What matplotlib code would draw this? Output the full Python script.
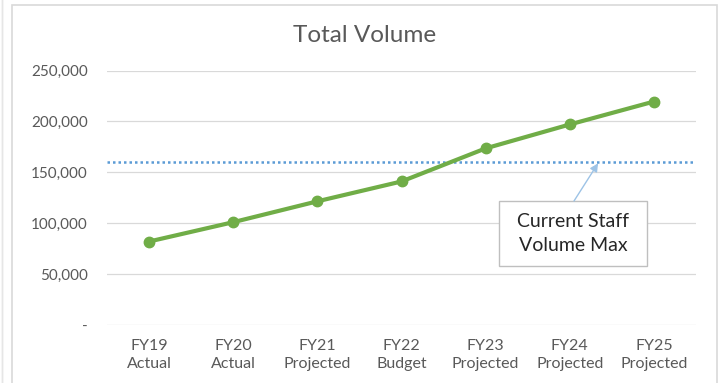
import matplotlib
matplotlib.use("Agg")
import matplotlib.pyplot as plt
from matplotlib.patches import Rectangle
from matplotlib.ticker import FuncFormatter

categories = ["FY19\nActual", "FY20\nActual", "FY21\nProjected", "FY22\nBudget",
              "FY23\nProjected", "FY24\nProjected", "FY25\nProjected"]
volume = [82000, 101000, 121500, 141000, 173500, 197000, 219500]
staff_max = 160000
yticks = [0, 50000, 100000, 150000, 200000, 250000]
title = "Total Volume"
note = "Current Staff\nVolume Max"

W, H = 723, 383
plt.rcParams['font.family'] = ['Lato', 'DejaVu Sans']
fig = plt.figure(figsize=(W / 100, H / 100), dpi=100)

# outer chart frame
fig.patches.append(Rectangle((12 / W, -0.05), (717 - 12) / W, (H - 5) / H + 0.05,
                             transform=fig.transFigure, fill=False,
                             edgecolor="#D9D9D9", lw=1.2))
fig.patches.append(Rectangle((2 / W, -0.05), 0, 1.1, transform=fig.transFigure,
                             fill=False, edgecolor="#E6E6E6", lw=1.0))

ax = fig.add_axes([107 / W, (H - 325) / H, (696 - 107) / W, (325 - 70.5) / H])
x = list(range(len(categories)))
ax.set_xlim(-0.5, len(categories) - 0.5)
ax.set_ylim(0, 250000)

ax.set_yticks(yticks)
ax.yaxis.set_major_formatter(FuncFormatter(lambda v, p: "-" if v == 0 else f"{int(v):,}"))
ax.grid(axis="y", color="#D9D9D9", lw=0.9)
ax.set_axisbelow(True)
for s in ax.spines.values():
    s.set_visible(False)
ax.tick_params(axis="y", length=0, pad=14, labelsize=11, labelcolor="#595959")
ax.set_xticks(x)
ax.set_xticklabels(categories, fontsize=11.5, color="#595959", linespacing=1.35)
ax.tick_params(axis="x", length=0, pad=10)

ax.axhline(staff_max, color="#5B9BD5", lw=1.8, ls=(0, (1, 1.2)), zorder=2)
ax.plot(x, volume, color="#70AD47", lw=3.0, marker="o", markersize=7.5, zorder=3)

fig.text(365 / W, (H - 35) / H, title, ha="center", va="center",
         fontsize=17.5, color="#595959")

# annotation box
bx0, bx1 = (499 - 107) / 589, (647 - 107) / 589
by0, by1 = (325 - 266) / 254.5, (325 - 201) / 254.5
ax.add_patch(Rectangle((bx0, by0), bx1 - bx0, by1 - by0, transform=ax.transAxes,
                       facecolor="white", edgecolor="#BFBFBF", lw=1.0, zorder=4))
ax.text((bx0 + bx1) / 2, (by0 + by1) / 2, note, transform=ax.transAxes,
        ha="center", va="center", fontsize=14, color="#262626",
        linespacing=1.45, zorder=5)
ax.annotate("", xy=(5.345, staff_max), xycoords="data",
            xytext=((574 - 107) / 589, by1), textcoords="axes fraction",
            arrowprops=dict(arrowstyle="-|>", color="#9DC3E6", lw=1.0,
                            mutation_scale=12, shrinkA=0, shrinkB=1),
            zorder=5)

fig.savefig("out.png", dpi=100)
